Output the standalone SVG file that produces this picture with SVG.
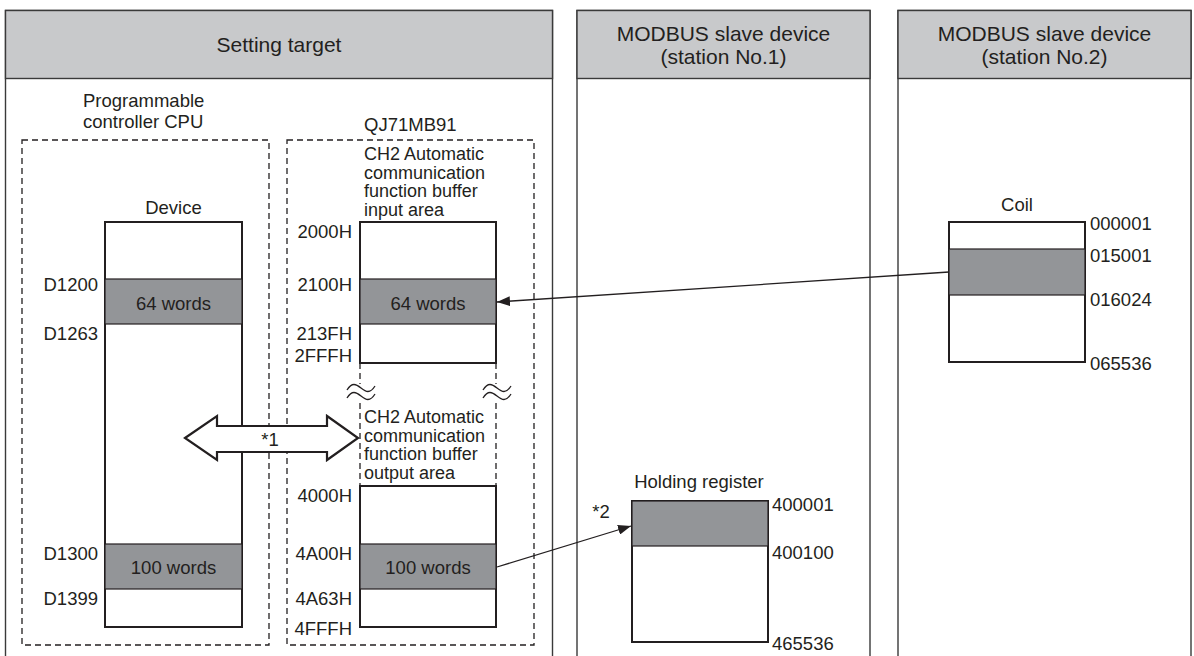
<svg xmlns="http://www.w3.org/2000/svg" width="1194" height="656" viewBox="0 0 1194 656">
<defs>
<style>
text{font-family:"Liberation Sans",Arial,sans-serif;font-size:18.5px;fill:#231f20}
.ml{font-size:18px}
.hd{font-size:21px}
.mid{text-anchor:middle}
.end{text-anchor:end}
.panel{fill:#fff;stroke:#3a3a3a;stroke-width:1.4}
.head{fill:#c8c9cb;stroke:#3a3a3a;stroke-width:1.4}
.dash{fill:none;stroke:#231f20;stroke-width:1.3;stroke-dasharray:6 4}
.mem{fill:#fff;stroke:#231f20;stroke-width:2}
.band{fill:#939598;stroke:#231f20;stroke-width:1.2}
.conn{fill:none;stroke:#231f20;stroke-width:1.3}
.sq{fill:none;stroke:#231f20;stroke-width:1.3}
</style>
<marker id="ah" viewBox="0 0 13 10" refX="13" refY="5" markerWidth="13" markerHeight="10" markerUnits="userSpaceOnUse" orient="auto">
<path d="M0,0 L13,5 L0,10 Z" fill="#231f20"/>
</marker>
</defs>
<rect width="1194" height="656" fill="#fff"/>

<g id="panel-setting-target">
<path class="panel" d="M5.5,656 V10.5 H552.5 V656"/>
<rect class="head" x="5.5" y="10.5" width="547" height="68"/>
<text class="hd mid" x="279" y="52">Setting target</text>
</g>
<g id="panel-station1">
<path class="panel" d="M577,656 V10.5 H870 V656"/>
<rect class="head" x="577" y="10.5" width="293" height="68"/>
<text class="hd mid" x="723.5" y="40.5">MODBUS slave device</text>
<text class="hd mid" x="723.5" y="64">(station No.1)</text>
</g>
<g id="panel-station2">
<path class="panel" d="M898,656 V10.5 H1191 V656"/>
<rect class="head" x="898" y="10.5" width="293" height="68"/>
<text class="hd mid" x="1044.5" y="40.5">MODBUS slave device</text>
<text class="hd mid" x="1044.5" y="64">(station No.2)</text>
</g>

<g id="cpu">
<text x="83" y="107">Programmable</text>
<text x="83" y="128">controller CPU</text>
<rect class="dash" x="22" y="140" width="247" height="505"/>
<text class="mid" x="173.5" y="214">Device</text>
<rect class="mem" x="105" y="222" width="137" height="405"/>
<rect class="band" x="105" y="279" width="137" height="45"/>
<rect class="band" x="105" y="544" width="137" height="45"/>
<text class="mid" x="173.5" y="310">64 words</text>
<text class="mid" x="173.5" y="574">100 words</text>
<text class="end" x="98" y="291">D1200</text>
<text class="end" x="98" y="340">D1263</text>
<text class="end" x="98" y="560">D1300</text>
<text class="end" x="98" y="605">D1399</text>
</g>

<g id="qj71mb91">
<text x="364" y="131">QJ71MB91</text>
<rect class="dash" x="287" y="140" width="247" height="505"/>
<text class="ml" x="364" y="160">CH2 Automatic</text>
<text class="ml" x="364" y="178.5">communication</text>
<text class="ml" x="364" y="197">function buffer</text>
<text class="ml" x="364" y="215.5">input area</text>
<rect class="mem" x="360" y="222" width="136" height="141"/>
<rect class="band" x="360" y="279" width="136" height="45"/>
<text class="mid" x="428" y="310">64 words</text>
<text class="end" x="352" y="238">2000H</text>
<text class="end" x="352" y="291">2100H</text>
<text class="end" x="352" y="340">213FH</text>
<text class="end" x="352" y="362">2FFFH</text>
<line class="dash" x1="360" y1="363" x2="360" y2="486"/>
<line class="dash" x1="496" y1="363" x2="496" y2="486"/>
<rect x="346" y="384" width="30" height="16" fill="#fff"/>
<rect x="482" y="384" width="30" height="16" fill="#fff"/>
<path class="sq" d="M347,390 C352,382 356,384 361,388 C366,392 370,394 375,386"/>
<path class="sq" d="M347,398 C352,390 356,392 361,396 C366,400 370,402 375,394"/>
<path class="sq" d="M483,390 C488,382 492,384 497,388 C502,392 506,394 511,386"/>
<path class="sq" d="M483,398 C488,390 492,392 497,396 C502,400 506,402 511,394"/>
<text class="ml" x="364" y="423">CH2 Automatic</text>
<text class="ml" x="364" y="441.5">communication</text>
<text class="ml" x="364" y="460">function buffer</text>
<text class="ml" x="364" y="478.5">output area</text>
<rect class="mem" x="360" y="486" width="136" height="141"/>
<rect class="band" x="360" y="544" width="136" height="45"/>
<text class="mid" x="428" y="574">100 words</text>
<text class="end" x="352" y="502">4000H</text>
<text class="end" x="352" y="560">4A00H</text>
<text class="end" x="352" y="605">4A63H</text>
<text class="end" x="352" y="635">4FFFH</text>
</g>

<g id="holding-register">
<text class="mid" x="699" y="488">Holding register</text>
<rect class="mem" x="632" y="501" width="136" height="141"/>
<rect class="band" x="632" y="501" width="136" height="45"/>
<text x="772" y="511">400001</text>
<text x="772" y="559">400100</text>
<text x="772" y="650">465536</text>
<text class="mid" x="601" y="518">*2</text>
</g>

<g id="coil">
<text class="mid" x="1017" y="211">Coil</text>
<rect class="mem" x="949" y="222" width="136" height="140"/>
<rect class="band" x="949" y="249" width="136" height="46"/>
<text x="1090" y="230">000001</text>
<text x="1090" y="262">015001</text>
<text x="1090" y="306">016024</text>
<text x="1090" y="370">065536</text>
</g>

<g id="connectors">
<line class="conn" x1="949" y1="272" x2="497" y2="302" marker-end="url(#ah)"/>
<line class="conn" x1="497" y1="567" x2="631" y2="526" marker-end="url(#ah)"/>
<path d="M185,438 L217,416 L217,426 L327,426 L327,416 L358,438 L327,460 L327,452 L217,452 L217,460 Z" fill="#fff" stroke="#231f20" stroke-width="2.2" stroke-linejoin="miter"/>
<text class="mid" x="270" y="446">*1</text>
</g>
</svg>
